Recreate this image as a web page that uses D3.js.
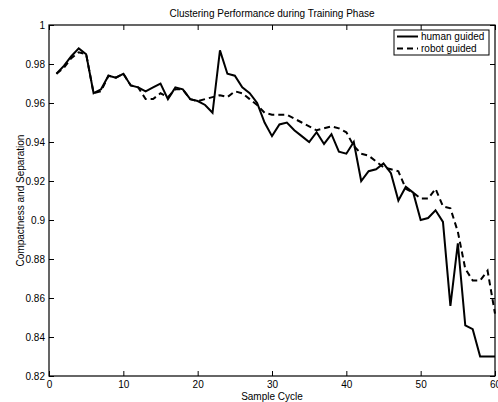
<!DOCTYPE html>
<html>
<head>
<meta charset="utf-8">
<script src="https://cdn.jsdelivr.net/npm/d3@7"></script>
<style>
  body { margin: 0; background: #fff; }
  svg { display: block; font-family: "Liberation Sans", Arial, sans-serif; }
</style>
</head>
<body>
<svg width="498" height="402"></svg>
<script>
// sample cycles 1..60
const cycles = d3.range(1, 61);

const humanGuided = [
  0.975, 0.979, 0.984, 0.988, 0.985, 0.965, 0.967, 0.974, 0.973, 0.975,
  0.969, 0.968, 0.966, 0.968, 0.970, 0.962, 0.968, 0.967, 0.962, 0.961,
  0.959, 0.955, 0.987, 0.975, 0.974, 0.968, 0.965, 0.960, 0.950, 0.943,
  0.949, 0.950, 0.946, 0.943, 0.940, 0.945, 0.939, 0.944, 0.935, 0.934,
  0.940, 0.920, 0.925, 0.926, 0.929, 0.924, 0.910, 0.917, 0.914, 0.900,
  0.901, 0.905, 0.899, 0.856, 0.888, 0.846, 0.844, 0.830, 0.830, 0.830
];

const robotGuided = [
  0.975, 0.978, 0.983, 0.986, 0.985, 0.965, 0.966, 0.974, 0.973, 0.975,
  0.969, 0.968, 0.962, 0.962, 0.965, 0.963, 0.967, 0.967, 0.962, 0.961,
  0.962, 0.963, 0.964, 0.963, 0.966, 0.965, 0.962, 0.959, 0.955, 0.954,
  0.954, 0.954, 0.952, 0.950, 0.948, 0.946, 0.947, 0.948, 0.947, 0.945,
  0.938, 0.934, 0.933, 0.930, 0.927, 0.926, 0.925, 0.916, 0.914, 0.911,
  0.911, 0.916, 0.907, 0.906, 0.894, 0.875, 0.869, 0.869, 0.874, 0.852
];

const xTicks = [0, 10, 20, 30, 40, 50, 60];
const yTicks = [0.82, 0.84, 0.86, 0.88, 0.9, 0.92, 0.94, 0.96, 0.98, 1];
const seriesNames = ["human guided", "robot guided"];

let svg = d3.select("svg"),
    plotLeft = 49, plotRight = 495, plotTop = 25, plotBottom = 376,
    fontSize = 10;

let x = d3.scaleLinear().domain([0, 60]).range([plotLeft, plotRight]);
let y = d3.scaleLinear().domain([0.82, 1]).range([plotBottom, plotTop]);

// ticks point inward, matlab style
function styleAxis(g) {
  g.select(".domain").remove();
  g.selectAll("line").attr("stroke", "#000");
  g.selectAll("text").attr("font-size", fontSize).attr("fill", "#000");
}

svg.append("g")
  .attr("transform", "translate(0," + plotBottom + ")")
  .call(d3.axisBottom(x).tickValues(xTicks).tickFormat(d3.format("d")).tickSize(-5).tickPadding(5))
  .call(styleAxis);

svg.append("g")
  .attr("transform", "translate(0," + plotTop + ")")
  .call(d3.axisTop(x).tickValues(xTicks).tickFormat("").tickSize(-5))
  .call(styleAxis);

svg.append("g")
  .attr("transform", "translate(" + plotLeft + ",0)")
  .call(d3.axisLeft(y).tickValues(yTicks).tickFormat(d => String(+d.toFixed(2))).tickSize(-5).tickPadding(4))
  .call(styleAxis);

svg.append("g")
  .attr("transform", "translate(" + plotRight + ",0)")
  .call(d3.axisRight(y).tickValues(yTicks).tickFormat("").tickSize(-5))
  .call(styleAxis);

// axes box
svg.append("rect")
  .attr("x", plotLeft).attr("y", plotTop)
  .attr("width", plotRight - plotLeft).attr("height", plotBottom - plotTop)
  .attr("fill", "none").attr("stroke", "#000").attr("stroke-width", 1.2);

let line = d3.line()
  .x((d, i) => x(cycles[i]))
  .y(d => y(d));

svg.append("path")
  .datum(robotGuided)
  .attr("d", line)
  .attr("fill", "none")
  .attr("stroke", "#000")
  .attr("stroke-width", 2)
  .attr("stroke-dasharray", "6,4");

svg.append("path")
  .datum(humanGuided)
  .attr("d", line)
  .attr("fill", "none")
  .attr("stroke", "#000")
  .attr("stroke-width", 2);

// legend
let legend = svg.append("g").attr("transform", "translate(394,30)");
legend.append("rect")
  .attr("width", 95).attr("height", 25)
  .attr("fill", "#fff").attr("stroke", "#000").attr("stroke-width", 1);

seriesNames.forEach(function (name, i) {
  let row = legend.append("g").attr("transform", "translate(0," + (6.5 + i * 12) + ")");
  row.append("line")
    .attr("x1", 3).attr("x2", 24)
    .attr("stroke", "#000").attr("stroke-width", 2)
    .attr("stroke-dasharray", i === 1 ? "6,4" : null);
  row.append("text")
    .attr("x", 27).attr("dy", "0.35em")
    .attr("font-size", fontSize)
    .text(name);
});

// titles
svg.append("text")
  .attr("x", (plotLeft + plotRight) / 2).attr("y", 17)
  .attr("text-anchor", "middle")
  .attr("font-size", fontSize)
  .text("Clustering Performance during Training Phase");

svg.append("text")
  .attr("x", (plotLeft + plotRight) / 2).attr("y", 400)
  .attr("text-anchor", "middle")
  .attr("font-size", fontSize)
  .text("Sample Cycle");

svg.append("text")
  .attr("transform", "translate(24," + ((plotTop + plotBottom) / 2) + ")rotate(-90)")
  .attr("text-anchor", "middle")
  .attr("font-size", fontSize)
  .text("Compactness and Separation");
</script>
</body>
</html>
